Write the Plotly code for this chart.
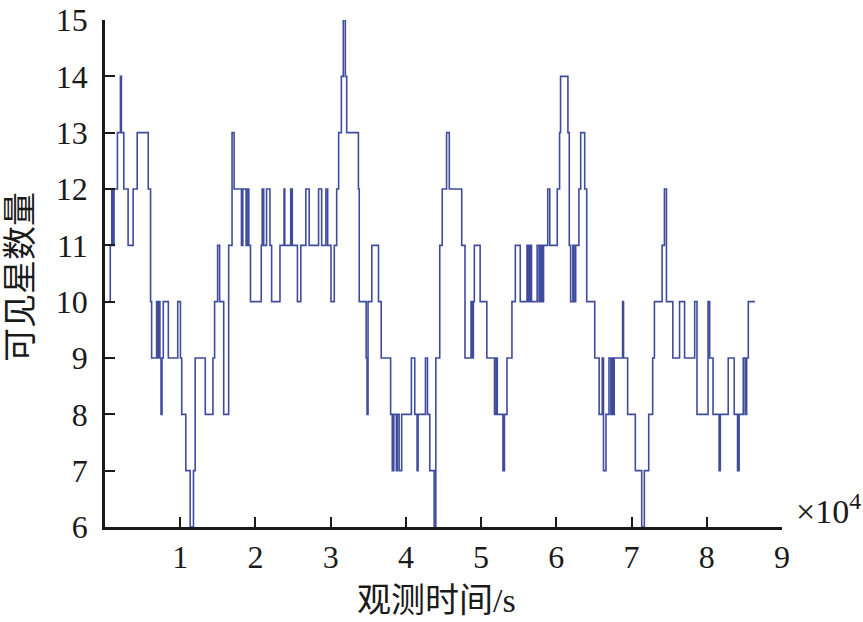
import plotly.graph_objects as go

# time in units of 1e4 s, visible satellite count (step function)
time_1e4 = [0.05, 0.07, 0.09, 0.10, 0.12, 0.165, 0.205, 0.218, 0.25, 0.307, 0.374, 0.428,
            0.575, 0.606, 0.62, 0.686, 0.70, 0.713, 0.73, 0.745, 0.758, 0.775, 0.842, 0.967,
            1.003, 1.02, 1.074, 1.132, 1.176, 1.199, 1.333, 1.435, 1.457, 1.497, 1.524, 1.578,
            1.644, 1.689, 1.716, 1.814, 1.832, 1.876, 1.89, 1.912, 1.934, 2.077, 2.09, 2.11,
            2.148, 2.193, 2.215, 2.326, 2.38, 2.39, 2.469, 2.49, 2.558, 2.603, 2.67, 2.714,
            2.839, 2.88, 2.937, 2.96, 3.004, 3.048, 3.08, 3.106, 3.142, 3.168, 3.195, 3.213,
            3.369, 3.38, 3.472, 3.484, 3.497, 3.547, 3.636, 3.672, 3.797, 3.819, 3.84, 3.873,
            3.886, 3.91, 3.944, 4.073, 4.118, 4.149, 4.162, 4.26, 4.287, 4.318, 4.376, 4.398,
            4.45, 4.483, 4.541, 4.577, 4.742, 4.786, 4.866, 4.88, 4.897, 4.91, 4.987, 5.076,
            5.178, 5.20, 5.215, 5.29, 5.31, 5.344, 5.41, 5.455, 5.52, 5.61, 5.63, 5.65,
            5.67, 5.745, 5.77, 5.79, 5.81, 5.83, 5.886, 5.913, 6.012, 6.043, 6.056, 6.154,
            6.172, 6.19, 6.22, 6.235, 6.257, 6.3, 6.324, 6.377, 6.404, 6.511, 6.569, 6.61,
            6.627, 6.66, 6.70, 6.725, 6.74, 6.75, 6.769, 6.881, 6.893, 6.948, 7.05, 7.135,
            7.17, 7.228, 7.281, 7.304, 7.406, 7.437, 7.464, 7.549, 7.638, 7.705, 7.839, 7.87,
            8.017, 8.039, 8.083, 8.164, 8.18, 8.285, 8.365, 8.409, 8.43, 8.485, 8.51, 8.53,
            8.552, 8.64]
visible_count = [10, 11, 12, 11, 12, 13, 14, 13, 12, 11, 12, 13,
                 12, 10, 9, 10, 9, 10, 9, 8, 9, 10, 9, 10,
                 9, 8, 7, 6, 7, 9, 8, 9, 10, 11, 10, 8,
                 11, 13, 12, 11, 12, 11, 12, 11, 10, 11, 12, 11,
                 12, 11, 10, 11, 12, 11, 12, 11, 10, 11, 12, 11,
                 12, 11, 12, 11, 10, 11, 12, 13, 14, 15, 14, 13,
                 12, 10, 9, 8, 10, 11, 10, 9, 8, 7, 8, 7,
                 8, 7, 8, 9, 8, 7, 8, 9, 8, 7, 6, 9,
                 11, 12, 13, 12, 11, 9, 10, 9, 10, 11, 10, 9,
                 8, 9, 8, 7, 8, 9, 10, 11, 10, 11, 10, 11,
                 10, 11, 10, 11, 10, 11, 12, 11, 12, 13, 14, 13,
                 11, 10, 11, 10, 11, 12, 13, 12, 10, 9, 8, 9,
                 7, 8, 9, 8, 9, 8, 9, 10, 9, 8, 7, 6,
                 7, 8, 9, 10, 11, 12, 10, 9, 10, 9, 10, 8,
                 10, 9, 8, 7, 8, 9, 8, 7, 8, 9, 8, 9,
                 10, 10]

x_ticks = [1, 2, 3, 4, 5, 6, 7, 8, 9]
y_ticks = [6, 7, 8, 9, 10, 11, 12, 13, 14, 15]

x_title = "观测时间/s"
y_title = "可见星数量"
x_scale_label = "×10<sup>4</sup>"

time_s = [t * 1e4 for t in time_1e4]

fig = go.Figure()
fig.add_trace(go.Scatter(
    x=time_s, y=visible_count, mode="lines", line_shape="hv",
    line=dict(color="#3f4c9e", width=1.6), showlegend=False,
))

serif = "Liberation Serif, Times New Roman, serif"
cjk = "Liberation Serif, Noto Sans CJK SC, serif"

fig.update_layout(
    template="none",
    width=863, height=622,
    margin=dict(l=105, r=81, t=20, b=95, autoexpand=False),
    paper_bgcolor="white", plot_bgcolor="white",
    font=dict(family=serif, size=32, color="#1a1a1a"),
    xaxis=dict(
        range=[0, 9e4], tickvals=[v * 1e4 for v in x_ticks],
        ticktext=[str(v) for v in x_ticks],
        ticks="inside", ticklen=10, tickwidth=2, tickcolor="#1a1a1a",
        showline=True, linewidth=2.5, linecolor="#1a1a1a",
        showgrid=False, zeroline=False, mirror=False, automargin=False,
        tickfont=dict(family=serif, size=32),
    ),
    yaxis=dict(
        range=[6, 15], tickvals=y_ticks,
        ticks="inside", ticklen=10, tickwidth=2, tickcolor="#1a1a1a",
        showline=True, linewidth=2.5, linecolor="#1a1a1a",
        showgrid=False, zeroline=False, mirror=False, automargin=False,
        tickfont=dict(family=serif, size=32),
        ticklabelstandoff=8,
    ),
    annotations=[
        dict(text=x_title, xref="paper", yref="paper", x=0.49, y=-0.144,
             showarrow=False, xanchor="center", yanchor="middle",
             font=dict(family=cjk, size=34, color="#1a1a1a")),
        dict(text=y_title, xref="paper", yref="paper", x=-0.1256, y=0.493,
             showarrow=False, xanchor="center", yanchor="middle", textangle=-90,
             font=dict(family=cjk, size=34, color="#1a1a1a")),
        dict(text=x_scale_label, xref="paper", yref="paper", x=1.017, y=0.035,
             showarrow=False, xanchor="left", yanchor="middle",
             font=dict(family=serif, size=34, color="#1a1a1a")),
    ],
)

fig.write_html("out.html", config={"displayModeBar": False},
               post_script="document.body.style.margin='0';document.body.style.overflow='hidden';")
